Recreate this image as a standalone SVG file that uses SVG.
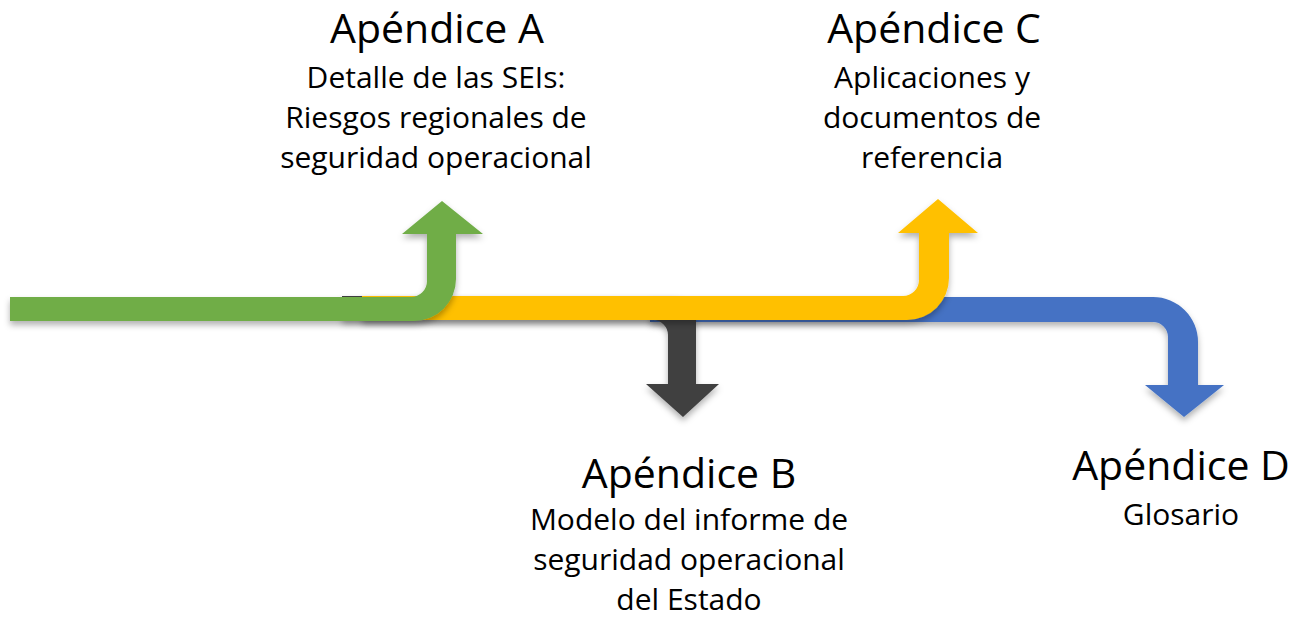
<svg xmlns="http://www.w3.org/2000/svg" width="1293" height="617" viewBox="0 0 1293 617">
<defs>
<filter id="sh" x="-10%" y="-20%" width="120%" height="150%">
<feDropShadow dx="0" dy="4" stdDeviation="3" flood-color="#000" flood-opacity="0.3"/>
</filter>
</defs>
<style>
.t{font-family:"Open Sans","Noto Sans",sans-serif;font-size:41px;fill:#000;text-anchor:middle}
.b{font-family:"Open Sans","Noto Sans",sans-serif;font-size:30px;fill:#000;text-anchor:middle}
.arr{filter:url(#sh)}
</style>
<rect width="1293" height="617" fill="#fff"/>
<g id="connectors">
<path id="arrow-d" class="arr" fill="#4472C4" d="M650,297 L1153,297 A45,45 0 0 1 1198,342 L1198,385 L1224,385 L1184,417 L1145,385 L1168,385 L1168,337 A15,15 0 0 0 1153,322 L650,322 Z"/>
<path id="arrow-b" class="arr" fill="#404040" d="M342,296 L672,296 A24,24 0 0 1 696,320 L696,384 L719,384 L683,417 L646,384 L668,384 L668,335 A15,15 0 0 0 653,320 L342,320 Z"/>
<path id="arrow-c" class="arr" fill="#FFC000" d="M362,296 L903,296 A16,16 0 0 0 919,280 L919,233 L898,233 L938,199 L978,233 L949,233 L949,278 A42,42 0 0 1 907,320 L362,320 Z"/>
<path id="arrow-a" class="arr" fill="#70AD47" d="M10,297 L411,297 A16,16 0 0 0 427,281 L427,234 L402,234 L442,201 L483,234 L456,234 L456,279 A42,42 0 0 1 414,321 L10,321 Z"/>
</g>
<g id="node-a">
<text class="t" x="437" y="43">Apéndice A</text>
<text class="b" x="436" y="88">Detalle de las SEIs:</text>
<text class="b" x="436" y="128">Riesgos regionales de</text>
<text class="b" x="436" y="168">seguridad operacional</text>
</g>
<g id="node-c">
<text class="t" x="934" y="43">Apéndice C</text>
<text class="b" x="932" y="88">Aplicaciones y</text>
<text class="b" x="932" y="128">documentos de</text>
<text class="b" x="932" y="168">referencia</text>
</g>
<g id="node-b">
<text class="t" x="689" y="488">Apéndice B</text>
<text class="b" x="689" y="530">Modelo del informe de</text>
<text class="b" x="689" y="570">seguridad operacional</text>
<text class="b" x="689" y="610">del Estado</text>
</g>
<g id="node-d">
<text class="t" x="1181" y="480">Apéndice D</text>
<text class="b" x="1181" y="525">Glosario</text>
</g>
</svg>
